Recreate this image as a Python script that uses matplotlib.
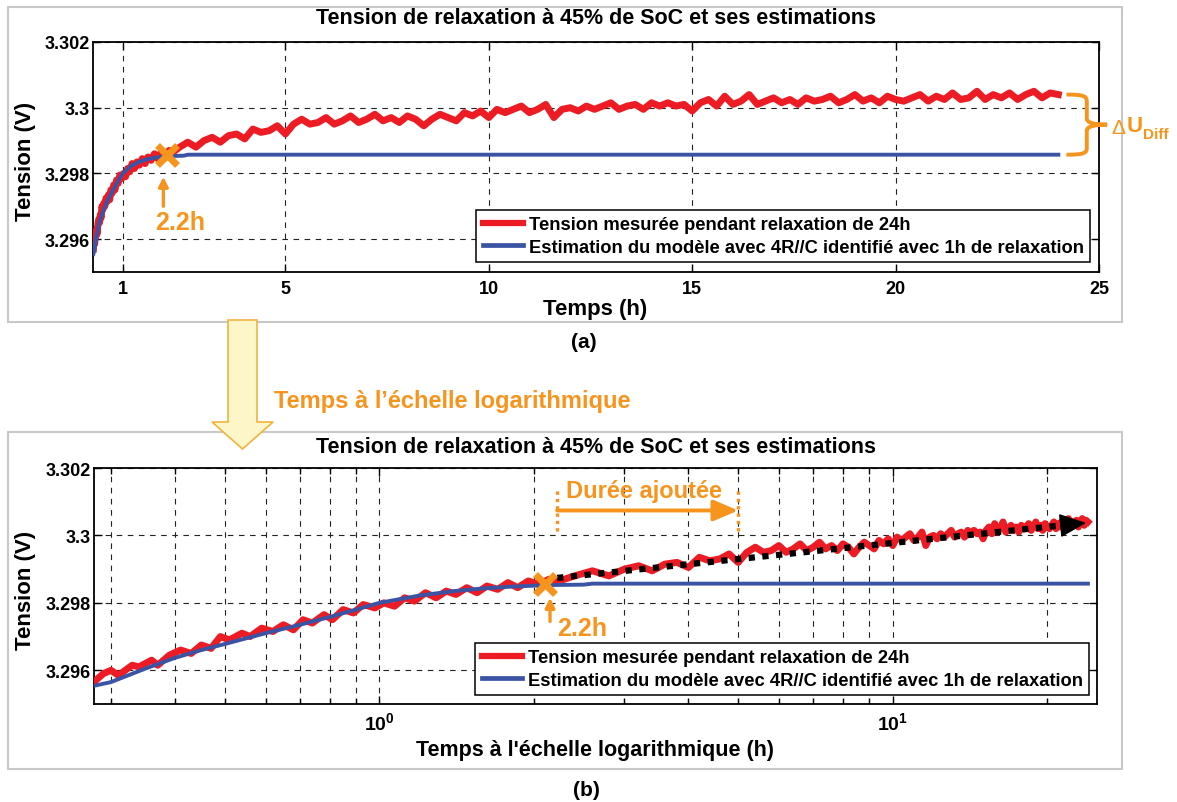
import math
import matplotlib
matplotlib.use('Agg')
import matplotlib.pyplot as plt
from matplotlib.patches import Rectangle, Polygon, PathPatch
from matplotlib.path import Path
from matplotlib.lines import Line2D
from matplotlib.ticker import FixedLocator, FuncFormatter, NullFormatter

plt.rcParams['font.family'] = ['Liberation Sans', 'DejaVu Sans']
plt.rcParams['font.weight'] = 'bold'
plt.rcParams['mathtext.fontset'] = 'custom'
plt.rcParams['mathtext.rm'] = 'Liberation Sans:bold'
plt.rcParams['mathtext.bf'] = 'Liberation Sans:bold'
plt.rcParams['mathtext.it'] = 'Liberation Sans:bold'

# ---------------- data ----------------
title = "Tension de relaxation à 45% de SoC et ses estimations"
label_meas = "Tension mesurée pendant relaxation de 24h"
label_model = "Estimation du modèle avec 4R//C identifié avec 1h de relaxation"

time_early = [0.28, 0.29, 0.30, 0.31, 0.33, 0.34, 0.36, 0.37, 0.39, 0.41,
              0.43, 0.45, 0.47, 0.49, 0.51, 0.54, 0.56, 0.59, 0.62, 0.65,
              0.68, 0.71, 0.74, 0.78, 0.81, 0.85, 0.89, 0.93, 0.98, 1.02,
              1.07, 1.12, 1.17, 1.23, 1.29, 1.35, 1.41, 1.48, 1.55, 1.62,
              1.70, 1.78, 1.86, 1.95, 2.04, 2.14, 2.24]
volt_early = [3.29570, 3.29590, 3.29600, 3.29585, 3.29615, 3.29610, 3.29630, 3.29615, 3.29645, 3.29660,
              3.29650, 3.29675, 3.29665, 3.29700, 3.29690, 3.29710, 3.29700, 3.29725, 3.29715, 3.29735,
              3.29720, 3.29750, 3.29740, 3.29765, 3.29750, 3.29780, 3.29770, 3.29795, 3.29785, 3.29800,
              3.29790, 3.29815, 3.29805, 3.29830, 3.29815, 3.29835, 3.29825, 3.29845, 3.29830, 3.29850,
              3.29840, 3.29860, 3.29845, 3.29865, 3.29855, 3.29870, 3.29865]

time_late = [2.4, 2.6, 2.8, 3.0, 3.2, 3.4, 3.6, 3.8, 4.0, 4.2,
             4.4, 4.6, 4.8, 5.0, 5.2, 5.4, 5.6, 5.8, 6.0, 6.2,
             6.4, 6.6, 6.8, 7.0, 7.2, 7.4, 7.6, 7.8, 8.0, 8.2,
             8.4, 8.6, 8.8, 9.0, 9.2, 9.4, 9.6, 9.8, 10.0, 10.2,
             10.4, 10.6, 10.8, 11.0, 11.2, 11.4, 11.6, 11.8, 12.0, 12.2,
             12.4, 12.6, 12.8, 13.0, 13.2, 13.4, 13.6, 13.8, 14.0, 14.2,
             14.4, 14.6, 14.8, 15.0, 15.2, 15.4, 15.6, 15.8, 16.0, 16.2,
             16.4, 16.6, 16.8, 17.0, 17.2, 17.4, 17.6, 17.8, 18.0, 18.2,
             18.4, 18.6, 18.8, 19.0, 19.2, 19.4, 19.6, 19.8, 20.0, 20.2,
             20.4, 20.6, 20.8, 21.0, 21.2, 21.4, 21.6, 21.8, 22.0, 22.2,
             22.4, 22.6, 22.8, 23.0, 23.2, 23.4, 23.6, 23.8, 24.0]
volt_late = [3.29880, 3.29895, 3.29880, 3.29900, 3.29910, 3.29895, 3.29915, 3.29920, 3.29905, 3.29935,
             3.29925, 3.29930, 3.29945, 3.29920, 3.29950, 3.29965, 3.29950, 3.29955, 3.29970, 3.29950,
             3.29960, 3.29975, 3.29955, 3.29965, 3.29980, 3.29960, 3.29970, 3.29955, 3.29975, 3.29965,
             3.29945, 3.29965, 3.29980, 3.29970, 3.29960, 3.29985, 3.29975, 3.29990, 3.29970, 3.29995,
             3.29985, 3.29995, 3.30005, 3.29985, 3.29995, 3.30010, 3.29970, 3.29995, 3.30000, 3.29990,
             3.30005, 3.29995, 3.30005, 3.30015, 3.29995, 3.30005, 3.30010, 3.29995, 3.30015, 3.30005,
             3.30015, 3.30005, 3.30010, 3.29990, 3.30015, 3.30025, 3.30005, 3.30035, 3.30010, 3.30020,
             3.30040, 3.30010, 3.30020, 3.30030, 3.30015, 3.30025, 3.30010, 3.30030, 3.30020, 3.30025,
             3.30035, 3.30015, 3.30025, 3.30040, 3.30020, 3.30030, 3.30015, 3.30035, 3.30025, 3.30020,
             3.30030, 3.30040, 3.30020, 3.30035, 3.30025, 3.30045, 3.30025, 3.30030, 3.30050, 3.30025,
             3.30040, 3.30030, 3.30045, 3.30025, 3.30040, 3.30050, 3.30030, 3.30045, 3.30040]

model_time = [0.28, 0.30, 0.35, 0.40, 0.45, 0.50, 0.60, 0.70, 0.80, 0.90,
              1.00, 1.20, 1.40, 1.60, 1.80, 2.00, 2.20, 2.50, 2.60, 24.0]
model_volt = [3.29555, 3.29565, 3.29605, 3.29637, 3.29660, 3.29678, 3.29710, 3.29735, 3.29758, 3.29780,
              3.29800, 3.29822, 3.29835, 3.29843, 3.29848, 3.29851, 3.29853, 3.29854, 3.29857, 3.29857]

time_meas = time_early + time_late
volt_meas = volt_early + volt_late

y_ticks = [3.296, 3.298, 3.300, 3.302]
y_tick_labels = ['3.296', '3.298', '3.3', '3.302']
x_ticks_lin = [1, 5, 10, 15, 20, 25]
x_major_log = [1, 10]
x_minor_log = [0.3, 0.4, 0.5, 0.6, 0.7, 0.8, 0.9, 2, 3, 4, 5, 6, 7, 8, 9, 20]

cross_t, cross_v = 2.1, 3.29855
added_start, added_end = 2.22, 5.0

RED = '#ED1C24'
BLUE = '#3A53A4'
ORANGE = '#F7941D'

# ---------------- layout ----------------
W, H = 1177, 803
fig = plt.figure(figsize=(W / 100, H / 100), dpi=100)


def fx(px):
    return px / W


def fy(py):
    return 1 - py / H


def add_ax(l, t, r, b):
    return fig.add_axes([fx(l), fy(b), fx(r) - fx(l), fy(t) - fy(b)])


# panel frames
for (l, t, r, b) in [(8, 8, 1122, 323), (8, 433, 1122, 770)]:
    fig.patches.append(Rectangle((fx(l), fy(b)), fx(r) - fx(l), fy(t) - fy(b),
                                 transform=fig.transFigure, fill=False,
                                 ec='#c8c8c8', lw=1.5))

ax1 = add_ax(93, 43, 1099, 273)
ax2 = add_ax(94, 469, 1097, 705)

grid_kw = dict(linestyle=(0, (5, 5)), color='#222222', linewidth=0.8)


def style(ax):
    ax.set_ylim(3.295, 3.302)
    ax.yaxis.set_major_locator(FixedLocator(y_ticks))
    ax.set_yticklabels(y_tick_labels)
    ax.tick_params(which='major', direction='in', top=True, right=True,
                   length=6, width=1, labelsize=13)
    ax.tick_params(which='minor', direction='in', top=True, right=True,
                   length=4, width=1)
    ax.tick_params(axis='y', pad=2)
    ax.tick_params(axis='x', pad=6)
    for s in ax.spines.values():
        s.set_linewidth(1.3)


RED_LW, BLUE_LW = 5.0, 2.8

# ---- top (linear) ----
style(ax1)
ax1.set_xlim(0.27, 25)
ax1.xaxis.set_major_locator(FixedLocator(x_ticks_lin))
ax1.grid(True, which='major', **grid_kw)
ax1.plot(time_meas, volt_meas, color=RED, lw=RED_LW, zorder=3)
ax1.plot(model_time, model_volt, color=BLUE, lw=BLUE_LW, zorder=4)
ax1.plot([cross_t], [cross_v], marker='x', ms=14, mew=5, color=ORANGE, zorder=6)
ax1.annotate('', xy=(2.0, 3.29790), xytext=(2.0, 3.29700),
             arrowprops=dict(arrowstyle='-|>', color=ORANGE, lw=2.4,
                             mutation_scale=14, shrinkA=0, shrinkB=0))
ax1.text(2.4, 3.29652, '2.2h', color=ORANGE, fontsize=18, fontweight='bold',
         ha='center', va='center')

# brace for delta U
b_x0, b_x1 = 24.2, 25.2
b_y0, b_y1 = model_volt[-1], 3.3004


def bp(u, v):
    return (b_x0 + u * (b_x1 - b_x0), b_y0 + v * (b_y1 - b_y0))


verts = [bp(0, 1), bp(0.45, 1), bp(0.5, 0.97), bp(0.5, 0.88),
         bp(0.5, 0.6),
         bp(0.5, 0.53), bp(0.7, 0.5), bp(1.0, 0.5),
         bp(0.7, 0.5), bp(0.5, 0.47), bp(0.5, 0.4),
         bp(0.5, 0.12),
         bp(0.5, 0.03), bp(0.45, 0), bp(0, 0)]
codes = [Path.MOVETO, Path.CURVE4, Path.CURVE4, Path.CURVE4,
         Path.LINETO,
         Path.CURVE4, Path.CURVE4, Path.CURVE4,
         Path.CURVE4, Path.CURVE4, Path.CURVE4,
         Path.LINETO,
         Path.CURVE4, Path.CURVE4, Path.CURVE4]
ax1.add_patch(PathPatch(Path(verts, codes), fill=False, ec=ORANGE, lw=2.8,
                        clip_on=False, zorder=7))

leg_handles = [Line2D([], [], color=RED, lw=4.5), Line2D([], [], color=BLUE, lw=3.4)]
leg_kw = dict(loc='lower right', fontsize=13.2, frameon=True, fancybox=False,
              edgecolor='k', framealpha=1, handlelength=2.2, handletextpad=0.3,
              borderpad=0.35, labelspacing=0.3, borderaxespad=0)
leg1 = ax1.legend(leg_handles, [label_meas, label_model],
                  bbox_to_anchor=(0.991, 0.043), **leg_kw)
leg1.get_frame().set_linewidth(1.1)

# ---- bottom (log) ----
style(ax2)
ax2.set_xscale('log')
ax2.set_xlim(0.278, 25)
ax2.xaxis.set_major_locator(FixedLocator(x_major_log))
ax2.xaxis.set_minor_locator(FixedLocator(x_minor_log))
ax2.xaxis.set_major_formatter(FuncFormatter(
    lambda v, p: r'$\mathbf{10^{%d}}$' % round(math.log10(v))))
ax2.xaxis.set_minor_formatter(NullFormatter())
ax2.tick_params(axis='x', which='major', labelsize=14, pad=5)
ax2.grid(True, which='both', **grid_kw)
ax2.plot(time_meas, volt_meas, color=RED, lw=RED_LW, zorder=3)
ax2.plot(model_time, model_volt, color=BLUE, lw=BLUE_LW, zorder=4)

# black dotted trend arrow
ax2.plot([2.22, 21.4], [3.29874, 3.30030], color='k', lw=4.5,
         linestyle=(0, (1.0, 1.2)), zorder=5)
ax2.annotate('', xy=(23.8, 3.30037), xytext=(21.4, 3.30030),
             arrowprops=dict(arrowstyle='-|>,head_length=0.85,head_width=0.38',
                             color='k', lw=1, mutation_scale=20,
                             shrinkA=0, shrinkB=0), zorder=6)
ax2.plot([cross_t], [cross_v], marker='x', ms=14, mew=5, color=ORANGE, zorder=7)
ax2.annotate('', xy=(2.15, 3.29815), xytext=(2.15, 3.29745),
             arrowprops=dict(arrowstyle='-|>', color=ORANGE, lw=2.4,
                             mutation_scale=14, shrinkA=0, shrinkB=0))
ax2.text(2.48, 3.29726, '2.2h', color=ORANGE, fontsize=18, fontweight='bold',
         ha='center', va='center')

# "Durée ajoutée"
for xv in (added_start, added_end):
    ax2.plot([xv, xv], [3.30012, 3.30142], color=ORANGE, lw=2.4,
             linestyle=(0, (1, 1.2)), zorder=5)
ax2.annotate('', xy=(added_end, 3.30074), xytext=(added_start, 3.30074),
             arrowprops=dict(arrowstyle='-|>,head_length=0.75,head_width=0.32',
                             color=ORANGE, lw=2.8, mutation_scale=20,
                             shrinkA=0, shrinkB=0))
ax2.text(3.28, 3.30132, 'Durée ajoutée', color=ORANGE, fontsize=17,
         fontweight='bold', ha='center', va='center')

leg2 = ax2.legend(leg_handles, [label_meas, label_model],
                  bbox_to_anchor=(0.992, 0.038), **leg_kw)
leg2.get_frame().set_linewidth(1.1)

# ---------------- figure texts ----------------
fig.text(fx(596), fy(19), title, ha='center', va='center', fontsize=15.5, fontweight='bold')
fig.text(fx(596), fy(448), title, ha='center', va='center', fontsize=15.5, fontweight='bold')
fig.text(fx(26), fy(161), 'Tension (V)', rotation=90, ha='center', va='center',
         fontsize=16, fontweight='bold')
fig.text(fx(26), fy(590), 'Tension (V)', rotation=90, ha='center', va='center',
         fontsize=16, fontweight='bold')
fig.text(fx(595), fy(310), 'Temps (h)', ha='center', va='center', fontsize=16, fontweight='bold')
fig.text(fx(595), fy(751), "Temps à l'échelle logarithmique (h)", ha='center', va='center',
         fontsize=15.5, fontweight='bold')
fig.text(fx(584), fy(343), '(a)', ha='center', va='center', fontsize=15, fontweight='bold')
fig.text(fx(586), fy(791), '(b)', ha='center', va='center', fontsize=15, fontweight='bold')
fig.text(fx(452), fy(402), "Temps à l’échelle logarithmique", ha='center', va='center',
         fontsize=17, fontweight='bold', color=ORANGE)

# delta U label
fig.text(fx(1111), fy(128), 'Δ', ha='left', va='center', fontsize=15,
         fontweight='normal', color=ORANGE)
fig.text(fx(1127), fy(127), 'U', ha='left', va='center', fontsize=16,
         fontweight='bold', color=ORANGE)
fig.text(fx(1143), fy(135), 'Diff', ha='left', va='center', fontsize=11,
         fontweight='bold', color=ORANGE)

# big yellow arrow between panels
arrow_px = [(228, 321), (257, 321), (257, 423), (273, 423), (242.5, 450),
            (212, 423), (228, 423)]
fig.patches.append(Polygon([(fx(x), fy(y)) for x, y in arrow_px], closed=True,
                           transform=fig.transFigure, fc='#FCF6C9', ec='#F2B33D',
                           lw=1.2, zorder=10))

fig.savefig('out.png', dpi=100)
